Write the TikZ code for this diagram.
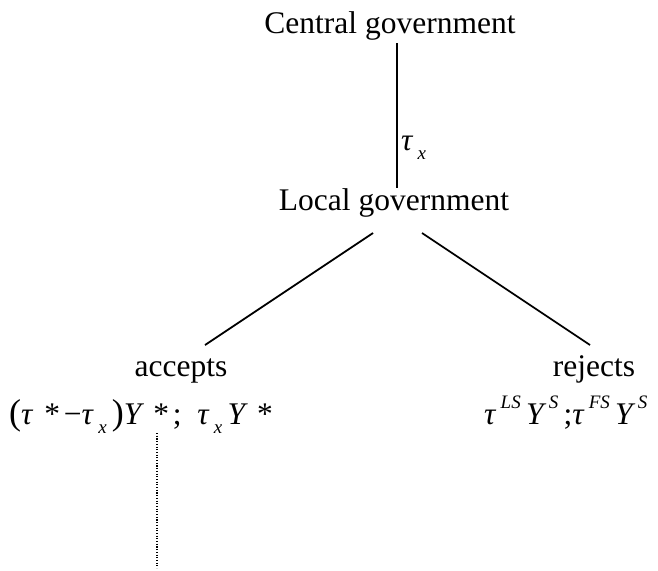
\documentclass[tikz,border=0pt]{standalone}
\usepackage{fontspec}
\setmainfont{Liberation Serif}
\newcommand{\mysub}[1]{\,\raisebox{-0.3em}{\fontsize{19}{20}\selectfont\itshape #1}}
\newcommand{\mysup}[1]{\raisebox{0.5em}{\fontsize{19}{20}\selectfont\itshape #1}}
\begin{document}
\begin{tikzpicture}[x=1pt,y=-1pt,
  lbl/.style={inner sep=0pt,font=\fontsize{31.5}{36}\selectfont},
  edge/.style={line width=1.8pt,line cap=butt},
  dots/.style={line width=1.1pt,dash pattern=on 1.1pt off 1.6pt}]
\useasboundingbox (0,0) rectangle (658,570);
\node[lbl,anchor=base] (central) at (390,33) {Central government};
\node[lbl,anchor=base] (local) at (394,210) {Local government};
\node[lbl,anchor=base] (accepts) at (181,376) {accepts};
\node[lbl,anchor=base] (rejects) at (594,376) {rejects};
\node[lbl,anchor=base west] (tau) at (401,150) {\itshape τ\mysub{x}};
\node[lbl,anchor=base west] (leftf) at (9,424)
  {\fontsize{36}{36}\selectfont(\fontsize{31.5}{36}\selectfont\itshape τ\,\,*\,\upshape −\itshape τ\mysub{x}\,\fontsize{36}{36}\selectfont\upshape)\fontsize{31.5}{36}\selectfont\itshape Y\,\,*\,\upshape;\ \ \itshape τ\mysub{x}\,Y\,\,*};
\node[lbl,anchor=base west] (rightf) at (484,424)
  {\itshape τ\,\mysup{LS}\,Y\,\mysup{S}\,\upshape;\itshape τ\,\mysup{FS}\,Y\,\mysup{S}};
\coordinate (c1) at (397,43);
\coordinate (c2) at (397,188);
\coordinate (l1) at (373,233);
\coordinate (l2) at (205,345);
\coordinate (r1) at (422,233);
\coordinate (r2) at (590,345);
\coordinate (d1) at (157,433);
\coordinate (d2) at (157,568);
\draw[edge] (c1) -- (c2);
\draw[edge] (l1) -- (l2);
\draw[edge] (r1) -- (r2);
\draw[dots] (d1) -- (d2);
\end{tikzpicture}
\end{document}
